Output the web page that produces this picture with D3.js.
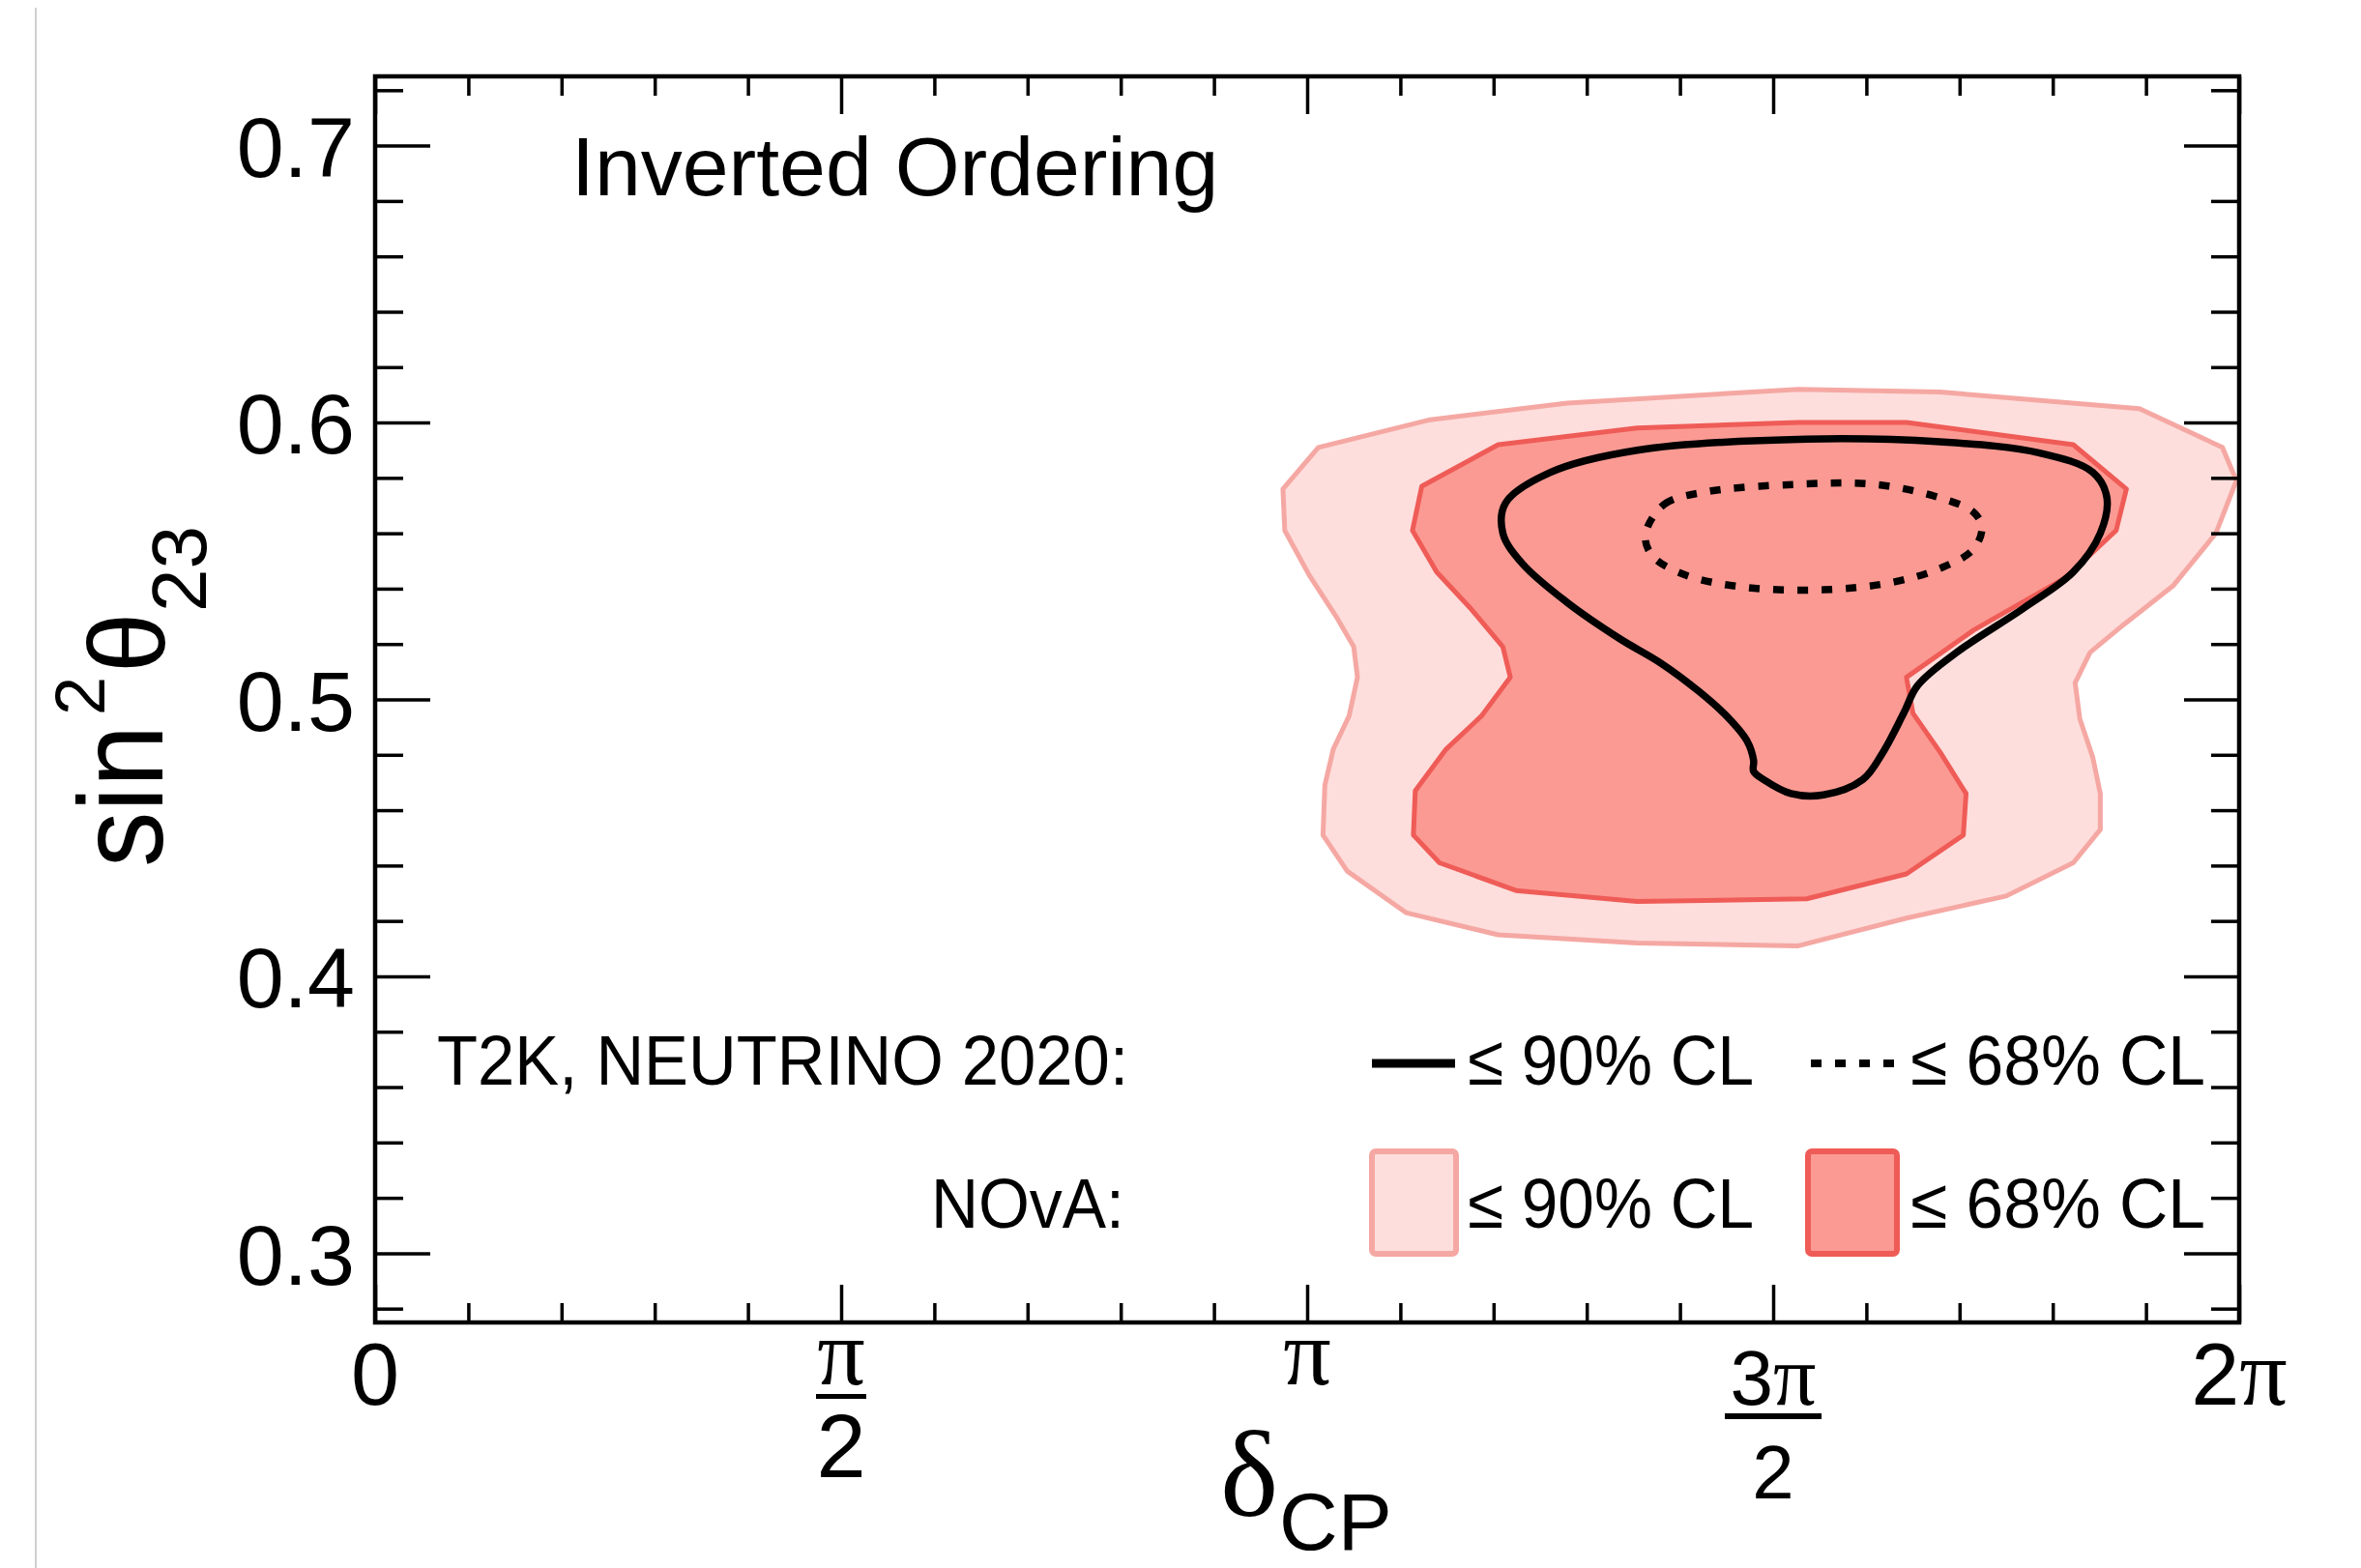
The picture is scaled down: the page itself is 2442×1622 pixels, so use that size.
<!DOCTYPE html>
<html><head><meta charset="utf-8">
<script src="https://cdn.jsdelivr.net/npm/d3@7"></script>
<style>html,body{margin:0;padding:0;background:#fff;} svg{display:block;}</style>
</head><body>
<svg id="chart" width="2442" height="1622"></svg>
<script>
// ---------------- data (δCP in units of π, sin²θ23) ----------------
const xMajorTicks = [0, 0.5, 1, 1.5, 2];
const xMinorTicks = [0.1,0.2,0.3,0.4,0.6,0.7,0.8,0.9,1.1,1.2,1.3,1.4,1.6,1.7,1.8,1.9];
const yMajorTicks = [0.3, 0.4, 0.5, 0.6, 0.7];
const yMinorTicks = [0.28,0.32,0.34,0.36,0.38,0.42,0.44,0.46,0.48,0.52,0.54,0.56,0.58,0.62,0.64,0.66,0.68,0.72];

// NOvA 90% CL (light) contour
const novaCL90 = [
  [1.527,0.612],[1.279,0.607],[1.132,0.601],[1.012,0.591],[0.974,0.576],[0.976,0.561],
  [1.002,0.545],[1.031,0.530],[1.050,0.519],[1.054,0.508],[1.045,0.494],[1.028,0.482],
  [1.019,0.469],[1.017,0.451],[1.043,0.438],[1.106,0.423],[1.205,0.415],[1.354,0.412],
  [1.527,0.411],[1.643,0.421],[1.750,0.429],[1.822,0.441],[1.851,0.453],[1.851,0.466],
  [1.843,0.479],[1.829,0.493],[1.824,0.506],[1.840,0.517],[1.876,0.527],[1.929,0.541],
  [1.975,0.560],[1.997,0.579],[1.982,0.591],[1.893,0.605],[1.679,0.611]
];
// NOvA 68% CL (dark) contour
const novaCL68 = [
  [1.527,0.600],[1.354,0.598],[1.205,0.592],[1.123,0.577],[1.113,0.561],[1.139,0.546],
  [1.175,0.533],[1.210,0.519],[1.218,0.508],[1.187,0.494],[1.149,0.482],[1.116,0.467],
  [1.114,0.451],[1.142,0.441],[1.224,0.431],[1.354,0.427],[1.536,0.428],[1.643,0.437],
  [1.704,0.451],[1.707,0.466],[1.679,0.481],[1.650,0.495],[1.643,0.508],[1.715,0.525],
  [1.814,0.544],[1.868,0.561],[1.879,0.576],[1.822,0.592],[1.643,0.600]
];
// T2K 90% CL (solid line)
const t2kCL90 = [
  [1.536,0.594],[1.354,0.590],[1.261,0.582],[1.213,0.571],[1.210,0.560],[1.231,0.549],
  [1.279,0.535],[1.335,0.522],[1.380,0.513],[1.420,0.503],[1.450,0.494],[1.472,0.485],
  [1.479,0.478],[1.479,0.474],[1.490,0.471],[1.519,0.466],[1.554,0.4655],[1.596,0.471],
  [1.618,0.481],[1.640,0.495],[1.655,0.505],[1.697,0.517],[1.769,0.533],[1.822,0.546],
  [1.851,0.560],[1.858,0.573],[1.843,0.582],[1.786,0.589],[1.679,0.593]
];
// T2K 68% CL (dotted line)
const t2kCL68 = [
  [1.363,0.5595],[1.383,0.5704],[1.427,0.5749],[1.527,0.5777],[1.608,0.5777],[1.679,0.5728],
  [1.715,0.5676],[1.724,0.5623],[1.715,0.5543],[1.679,0.5473],[1.625,0.5421],[1.554,0.5396],
  [1.470,0.5405],[1.405,0.5450],[1.370,0.5520]
];
const legendRows = ["T2K, NEUTRINO 2020:", "NOvA:"];
const legendLabels = ["\u2264 90% CL", "\u2264 68% CL"];
const titleText = "Inverted Ordering";

// ---------------- layout ----------------
const W = 2442, H = 1622;
const F = {left: 388, right: 2316, top: 79, bottom: 1368};
const SANS = "'Liberation Sans', Arial, Helvetica, sans-serif";
const SERIF = "'Liberation Serif', 'DejaVu Serif', 'Times New Roman', serif";
const C = {lightFill:'#fddedc', lightStroke:'#f5a8a3', darkFill:'#fb9a93', darkStroke:'#ef5c57'};

const x = d3.scaleLinear().domain([0, 2]).range([F.left, F.right]);
const y = d3.scaleLinear().domain([0.275, 0.725]).range([F.bottom, F.top]);

const svg = d3.select('#chart');
svg.append('rect').attr('width', W).attr('height', H).attr('fill', '#fff');
svg.append('line').attr('x1', 37).attr('x2', 37).attr('y1', 8).attr('y2', H)
   .attr('stroke', '#cfcfcf').attr('stroke-width', 2);

svg.append('defs').append('clipPath').attr('id', 'clip').append('rect')
   .attr('x', F.left).attr('y', F.top).attr('width', F.right - F.left).attr('height', F.bottom - F.top);
const plot = svg.append('g').attr('clip-path', 'url(#clip)');

const lin = d3.line().x(d => x(d[0])).y(d => y(d[1])).curve(d3.curveLinearClosed);
const smooth = d3.line().x(d => x(d[0])).y(d => y(d[1])).curve(d3.curveCatmullRomClosed.alpha(0.5));

plot.append('path').datum(novaCL90).attr('d', lin)
  .attr('fill', C.lightFill).attr('stroke', C.lightStroke).attr('stroke-width', 5).attr('stroke-linejoin', 'round');
plot.append('path').datum(novaCL68).attr('d', lin)
  .attr('fill', C.darkFill).attr('stroke', C.darkStroke).attr('stroke-width', 5).attr('stroke-linejoin', 'round');
plot.append('path').datum(t2kCL90).attr('d', smooth)
  .attr('fill', 'none').attr('stroke', '#000').attr('stroke-width', 7.5);
plot.append('path').datum(t2kCL68).attr('d', smooth)
  .attr('fill', 'none').attr('stroke', '#000').attr('stroke-width', 7.5).attr('stroke-dasharray', '11 14');

// ---------------- axes ----------------
function clean(g) {
  g.select('.domain').remove();
  g.selectAll('.tick line').attr('stroke', '#000').attr('stroke-width', 3.5);
}
const noLab = () => '';
// left
svg.append('g').attr('transform', `translate(${F.left},0)`)
  .call(d3.axisLeft(y).tickValues(yMinorTicks).tickSize(-29).tickFormat(noLab)).call(clean);
const yl = svg.append('g').attr('transform', `translate(${F.left},0)`)
  .call(d3.axisLeft(y).tickValues(yMajorTicks).tickSize(-57).tickPadding(21).tickFormat(d3.format('.1f'))).call(clean);
yl.selectAll('text').attr('font-family', SANS).attr('font-size', 88).attr('fill', '#000').attr('dy', '0.36em');
// right
svg.append('g').attr('transform', `translate(${F.right},0)`)
  .call(d3.axisRight(y).tickValues(yMinorTicks).tickSize(-29).tickFormat(noLab)).call(clean);
svg.append('g').attr('transform', `translate(${F.right},0)`)
  .call(d3.axisRight(y).tickValues(yMajorTicks).tickSize(-57).tickFormat(noLab)).call(clean);
// bottom
svg.append('g').attr('transform', `translate(0,${F.bottom})`)
  .call(d3.axisBottom(x).tickValues(xMinorTicks).tickSize(-20).tickFormat(noLab)).call(clean);
svg.append('g').attr('transform', `translate(0,${F.bottom})`)
  .call(d3.axisBottom(x).tickValues(xMajorTicks).tickSize(-39).tickFormat(noLab)).call(clean);
// top
svg.append('g').attr('transform', `translate(0,${F.top})`)
  .call(d3.axisTop(x).tickValues(xMinorTicks).tickSize(-20).tickFormat(noLab)).call(clean);
svg.append('g').attr('transform', `translate(0,${F.top})`)
  .call(d3.axisTop(x).tickValues(xMajorTicks).tickSize(-39).tickFormat(noLab)).call(clean);

// frame
svg.append('rect').attr('x', F.left).attr('y', F.top).attr('width', F.right - F.left).attr('height', F.bottom - F.top)
  .attr('fill', 'none').attr('stroke', '#000').attr('stroke-width', 4.5);

// x tick labels (fractions of π)
const xl = svg.append('g').attr('fill', '#000');
function txt(g, px, py, family, size, s, anchor) {
  return g.append('text').attr('x', px).attr('y', py).attr('font-family', family)
    .attr('font-size', size).attr('text-anchor', anchor || 'middle').text(s);
}
// 0
txt(xl, x(0), 1453, SANS, 90, '0');
// π/2
txt(xl, x(0.5), 1432, SERIF, 98, 'π');
xl.append('line').attr('x1', x(0.5) - 26).attr('x2', x(0.5) + 26).attr('y1', 1444.5).attr('y2', 1444.5)
  .attr('stroke', '#000').attr('stroke-width', 5);
txt(xl, x(0.5), 1528, SANS, 92, '2');
// π
txt(xl, x(1), 1432, SERIF, 98, 'π');
// 3π/2
const t3 = xl.append('text').attr('x', x(1.5)).attr('y', 1453).attr('text-anchor', 'middle');
t3.append('tspan').attr('font-family', SANS).attr('font-size', 80).text('3');
t3.append('tspan').attr('font-family', SERIF).attr('font-size', 88).text('π');
xl.append('line').attr('x1', x(1.5) - 50).attr('x2', x(1.5) + 50).attr('y1', 1465).attr('y2', 1465)
  .attr('stroke', '#000').attr('stroke-width', 6);
txt(xl, x(1.5), 1550, SANS, 78, '2');
// 2π
const t2 = xl.append('text').attr('x', x(2)).attr('y', 1453).attr('text-anchor', 'middle');
t2.append('tspan').attr('font-family', SANS).attr('font-size', 90).text('2');
t2.append('tspan').attr('font-family', SERIF).attr('font-size', 98).text('π');

// axis titles
txt(svg, 1262, 1568, SERIF, 128, 'δ', 'start');
txt(svg, 1323, 1603, SANS, 84, 'CP', 'start');

function rot(px, py, family, size, s, len) {
  const t = svg.append('text').attr('transform', `translate(${px},${py}) rotate(-90)`)
    .attr('font-family', family).attr('font-size', size).attr('text-anchor', 'start').text(s);
  if (len) t.attr('textLength', len).attr('lengthAdjust', 'spacingAndGlyphs');
  return t;
}
rot(168, 897, SANS, 124, 'sin', 147);
rot(108, 740, SANS, 72, '2');
rot(170, 696, SANS, 112, 'θ');
rot(213, 633, SANS, 80, '23');

// title
txt(svg, 591, 202, SANS, 86, titleText, 'start');

// ---------------- legend ----------------
const lg = svg.append('g');
txt(lg, 452, 1122, SANS, 73, legendRows[0], 'start').attr('textLength', 715).attr('lengthAdjust', 'spacingAndGlyphs');
txt(lg, 1163, 1270, SANS, 73, legendRows[1], 'end').attr('textLength', 200).attr('lengthAdjust', 'spacingAndGlyphs');
lg.append('line').attr('x1', 1419).attr('x2', 1505).attr('y1', 1100).attr('y2', 1100)
  .attr('stroke', '#000').attr('stroke-width', 9);
lg.append('line').attr('x1', 1873).attr('x2', 1966).attr('y1', 1100).attr('y2', 1100)
  .attr('stroke', '#000').attr('stroke-width', 8).attr('stroke-dasharray', '11 14');
lg.append('rect').attr('x', 1419).attr('y', 1191).attr('width', 87).attr('height', 106).attr('rx', 4)
  .attr('fill', C.lightFill).attr('stroke', C.lightStroke).attr('stroke-width', 6);
lg.append('rect').attr('x', 1870).attr('y', 1191).attr('width', 92).attr('height', 106).attr('rx', 4)
  .attr('fill', C.darkFill).attr('stroke', C.darkStroke).attr('stroke-width', 6);
[1122, 1270].forEach(by => {
  txt(lg, 1518, by, SANS, 73, legendLabels[0], 'start').attr('textLength', 296).attr('lengthAdjust', 'spacingAndGlyphs');
  txt(lg, 1976, by, SANS, 73, legendLabels[1], 'start').attr('textLength', 305).attr('lengthAdjust', 'spacingAndGlyphs');
});
</script>
</body></html>
